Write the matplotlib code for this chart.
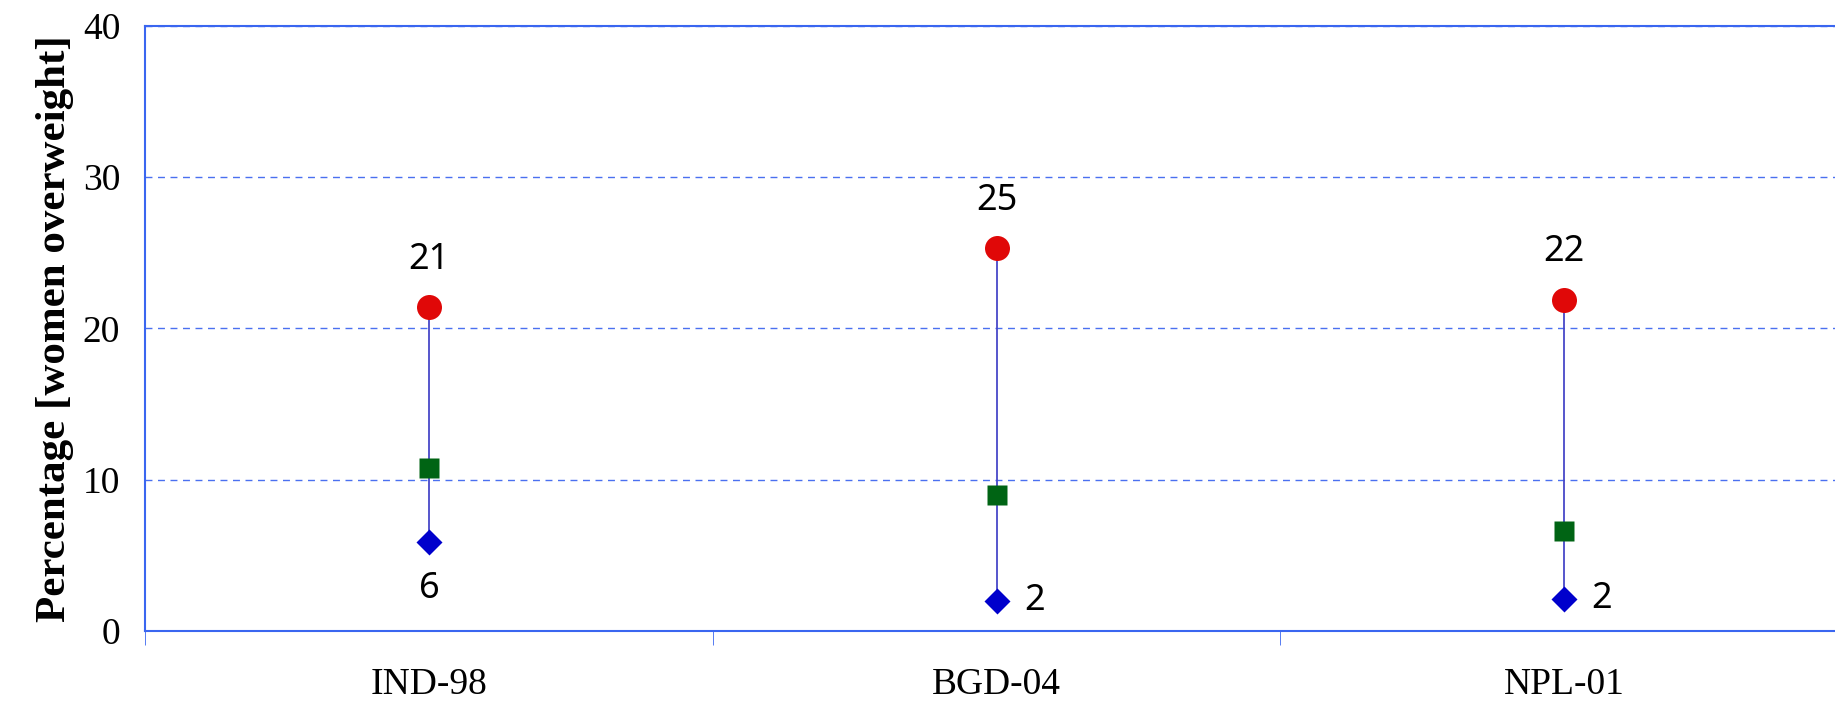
import numpy as np
import matplotlib.pyplot as plt

# data
countries = ["IND-98", "BGD-04", "NPL-01"]
high = [21.4, 25.3, 21.9]     # red circles
mid = [10.8, 9.0, 6.6]        # green squares
low = [5.9, 2.0, 2.1]         # blue diamonds
high_labels = ["21", "25", "22"]
low_labels = ["6", "2", "2"]

fig = plt.figure(figsize=(18.35, 7.05), dpi=100)
ax = fig.add_axes([0.0791, 0.1047, 0.928, 0.8588])

x = np.arange(len(countries))

ax.vlines(x, low, high, color="#4848c8", lw=1.3, zorder=2)
ax.plot(x, high, "o", color="#e00808", ms=18, mec="none", zorder=3)
ax.plot(x, mid, "s", color="#006414", ms=14, mec="none", zorder=3)
ax.plot(x, low, "D", color="#0000cc", ms=13, mec="none", zorder=3)

lab_font = dict(family="Noto Sans", fontsize=26, color="black")
for i in range(len(countries)):
    ax.annotate(high_labels[i], (x[i], high[i]), xytext=(0, 34),
                textcoords="offset points", ha="center", va="center", **lab_font)
    if i == 0:
        ax.annotate(low_labels[i], (x[i], low[i]), xytext=(0, -34),
                    textcoords="offset points", ha="center", va="center", **lab_font)
    else:
        ax.annotate(low_labels[i], (x[i], low[i]), xytext=(27, 0),
                    textcoords="offset points", ha="center", va="center", **lab_font)

ax.set_xlim(-0.5, 2.5)
ax.set_ylim(0, 40)
ax.set_yticks([0, 10, 20, 30, 40])
ax.yaxis.grid(True, ls=(0, (5, 4)), color="#4a70f0", lw=1)
ax.set_axisbelow(True)

ax.set_xticks(x)
ax.set_xticklabels(countries, family="Liberation Serif", fontsize=27)
ax.set_xticks([-0.5, 0.5, 1.5], minor=True)
ax.tick_params(axis="x", which="major", length=0, pad=26)
ax.tick_params(axis="x", which="minor", length=10, color="#3a66f0", direction="out")
ax.tick_params(axis="y", length=0, pad=18)
for t in ax.get_yticklabels():
    t.set_family("Liberation Serif")
    t.set_fontsize(27)

ax.set_ylabel("Percentage [women overweight]", family="Liberation Serif",
              fontweight="bold", fontsize=31, labelpad=6)

for s in ["left", "bottom", "top"]:
    ax.spines[s].set_color("#3a66f0")
    ax.spines[s].set_linewidth(1.5)
ax.spines["right"].set_visible(False)

fig.savefig("out.png", dpi=100)
